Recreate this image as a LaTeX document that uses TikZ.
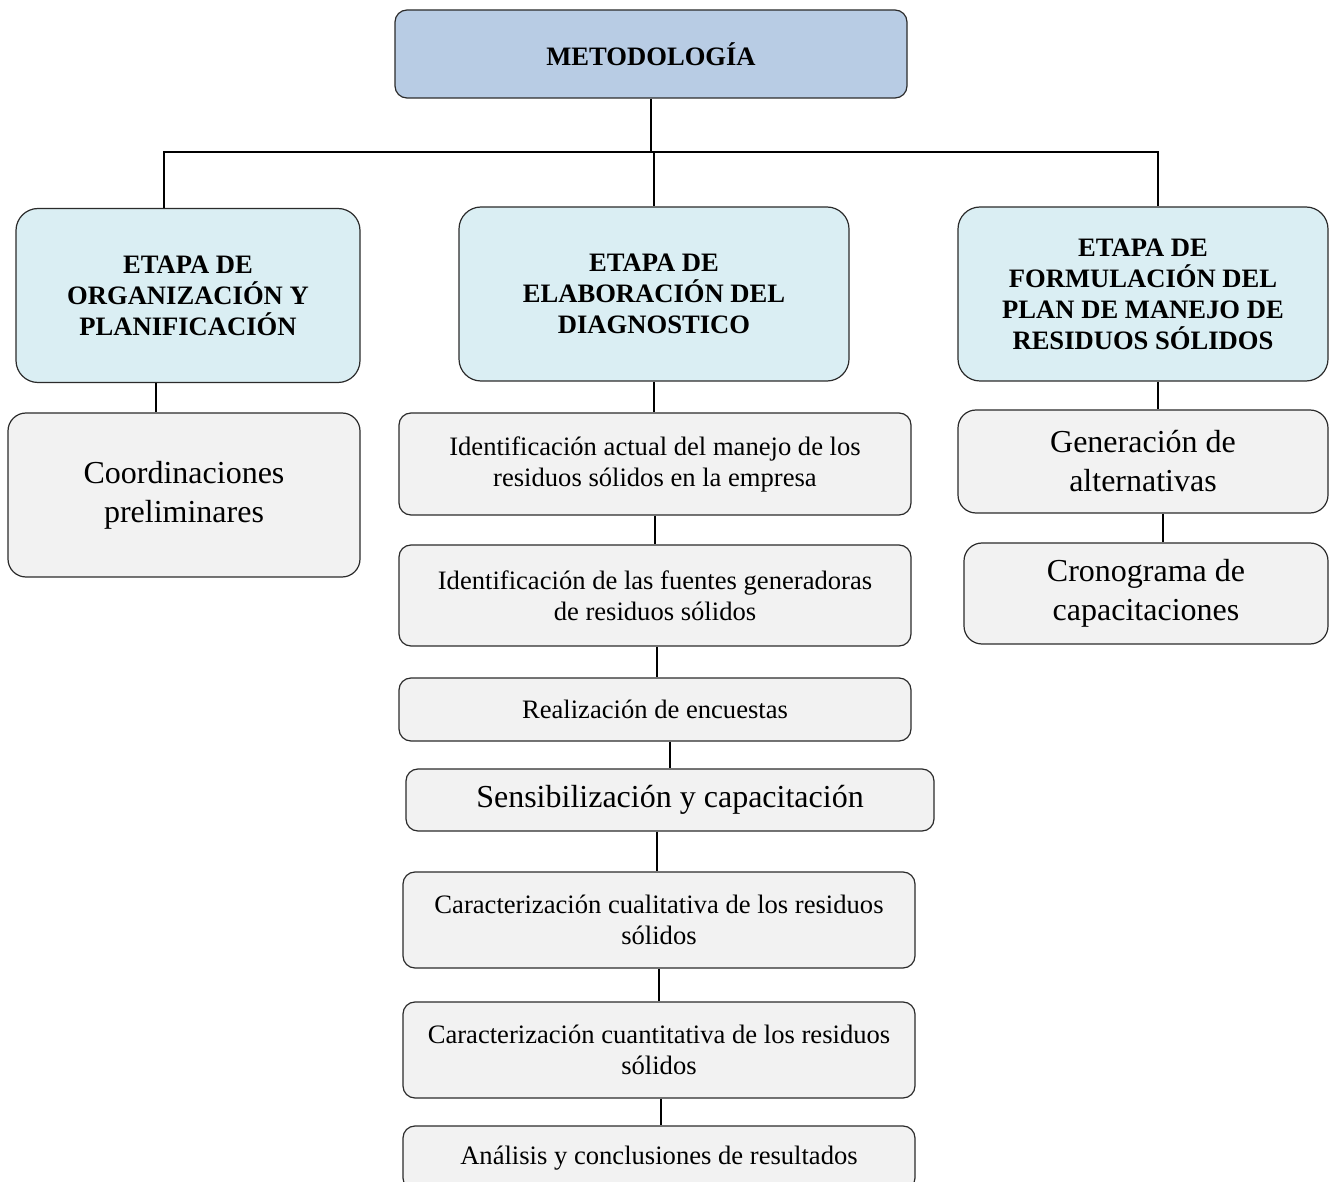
\documentclass[tikz,border=0pt]{standalone}
\usepackage{fontspec}
\setmainfont{Liberation Serif}
\usepackage{xcolor}
\definecolor{Header}{HTML}{B8CCE4}
\definecolor{Stage}{HTML}{DAEEF3}
\definecolor{Task}{HTML}{F2F2F2}
\definecolor{Edge}{HTML}{2B2B2B}
\usepackage{tikz}
\usetikzlibrary{positioning,calc}

\begin{document}
\begin{tikzpicture}[
  x=0.5pt,y=-0.5pt,
  header/.style={draw=Edge,line width=0.6pt,rounded corners=6pt,fill=Header,align=center,minimum width=256pt,minimum height=44pt,font=\fontsize{13.3}{15.5}\selectfont\bfseries},
  stage/.style={draw=Edge,line width=0.6pt,rounded corners=11pt,fill=Stage,align=center,minimum height=87pt,font=\fontsize{13.3}{15.5}\selectfont\bfseries},
  task/.style={draw=Edge,line width=0.6pt,rounded corners=6pt,fill=Task,align=center,minimum width=256pt,font=\fontsize{13.3}{15.5}\selectfont},
  bigtask/.style={task,rounded corners=9pt,font=\fontsize{16}{19.5}\selectfont},
  link/.style={draw=black,line width=0.7pt}
]
\clip (0,0) rectangle (1330,1182);

\node[header] (meto) at (651,54) {METODOLOGÍA};

\node[stage,minimum width=172pt] (org) at (188,295.5) {ETAPA DE\\ORGANIZACIÓN Y\\PLANIFICACIÓN};
\node[stage,minimum width=195pt] (diag) at (654,294) {ETAPA DE\\ELABORACIÓN DEL\\DIAGNOSTICO};
\node[stage,minimum width=185pt] (plan) at (1143,294) {ETAPA DE\\FORMULACIÓN DEL\\PLAN DE MANEJO DE\\RESIDUOS SÓLIDOS};

% left branch
\node[bigtask,minimum width=176pt,minimum height=82pt] (coord) at (184,495) {Coordinaciones\\preliminares};

% middle branch
\node[task,minimum height=51pt] (ident) at (655,464) {Identificación actual del manejo de los\\residuos sólidos en la empresa};
\node[task,minimum height=50.5pt] (fuentes) at (655,595.5) {Identificación de las fuentes generadoras\\de residuos sólidos};
\node[task,minimum height=31.5pt] (encuestas) at (655,709.5) {Realización de encuestas};
\node[bigtask,rounded corners=6pt,minimum width=264pt,minimum height=31pt] (sensib) at (670,800) {Sensibilización y capacitación};
\node[task,minimum height=48pt] (cuali) at (659,920) {Caracterización cualitativa de los residuos\\sólidos};
\node[task,minimum height=48pt] (cuanti) at (659,1050) {Caracterización cuantitativa de los residuos\\sólidos};
\node[task,minimum height=32pt] (analisis) at (659,1158) {Análisis y conclusiones de resultados};

% right branch
\node[bigtask,minimum width=185pt,minimum height=51.5pt] (altern) at (1143,461.5) {Generación de\\alternativas};
\node[bigtask,minimum width=182pt,minimum height=50.5pt] (crono) at (1146,593.5) {Cronograma de\\capacitaciones};

% tree
\coordinate (bar) at (653,152);
\coordinate (leftdrop) at ($(org.north)+(-24,0)$);
\coordinate (rightdrop) at ($(plan.north)+(15,0)$);
\draw[link] (meto.south) -- (meto.south |- bar);
\draw[link] (leftdrop) |- (bar) -| (rightdrop);
\draw[link] (diag.north |- bar) -- (diag.north);

% stems
\coordinate (c1) at ($(coord.north)+(-28,0)$);
\coordinate (c2) at ($(fuentes.south)+(2,0)$);
\coordinate (c3) at ($(cuali.north)+(-2,0)$);
\coordinate (c4) at ($(analisis.north)+(2,0)$);
\coordinate (c5) at ($(altern.north)+(15,0)$);
\coordinate (c6) at ($(crono.north)+(17,0)$);

\draw[link] (c1 |- org.south) -- (c1);
\draw[link] (diag.south) -- (diag.south |- ident.north);
\draw[link] (ident.south) -- (ident.south |- fuentes.north);
\draw[link] (c2) -- (c2 |- encuestas.north);
\draw[link] (sensib.north |- encuestas.south) -- (sensib.north);
\draw[link] (c3 |- sensib.south) -- (c3);
\draw[link] (cuali.south) -- (cuali.south |- cuanti.north);
\draw[link] (c4 |- cuanti.south) -- (c4);
\draw[link] (c5 |- plan.south) -- (c5);
\draw[link] (c6 |- altern.south) -- (c6);
\end{tikzpicture}
\end{document}
